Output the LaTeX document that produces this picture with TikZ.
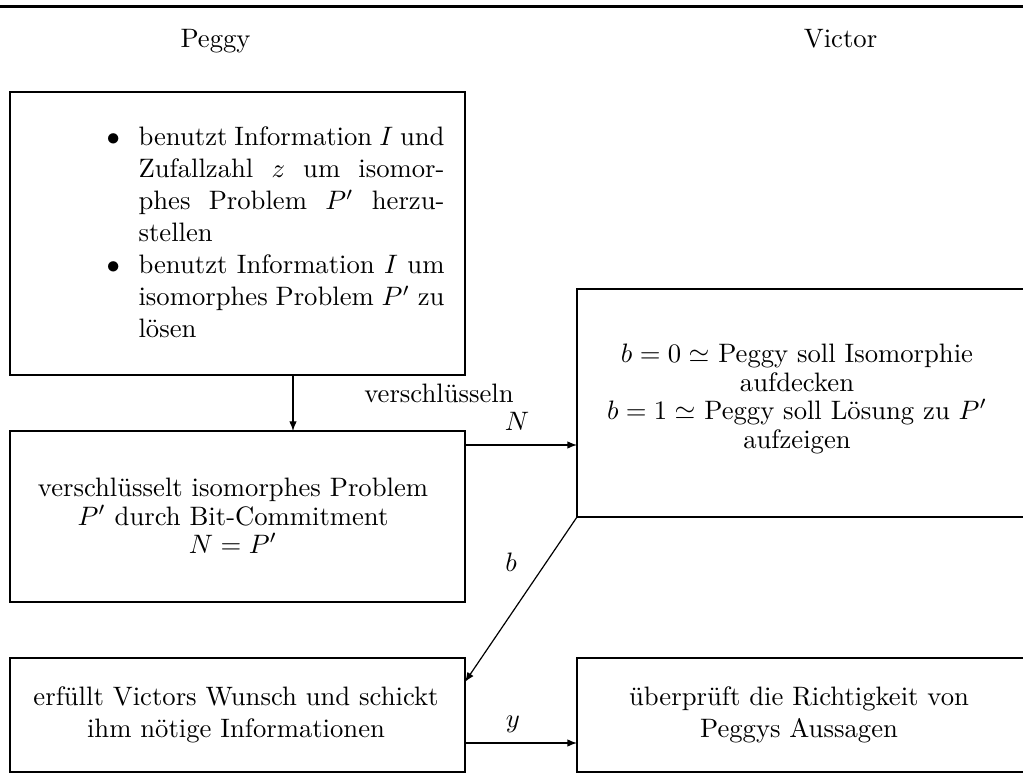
\documentclass[tikz,border=0pt]{standalone}
\usetikzlibrary{arrows.meta,calc}
\newdimen\pxu \pxu=0.375pt
\begin{document}
\begin{tikzpicture}[x=0.375pt,y=-0.375pt,
  frame/.style={draw, line width=0.8pt, inner sep=0pt, outer sep=0pt},
  arr/.style={line width=0.45pt, -{Latex[length=3.6pt,width=2.8pt]}},
  txt/.style={inner sep=0pt, font=\fontsize{10pt}{12pt}\selectfont},
  tight/.style={inner sep=0pt, font=\fontsize{10pt}{10.7pt}\selectfont},
]
\useasboundingbox (0,0) rectangle (1023,782);

% heading rule and the two parties
\draw[line width=1.1pt] (0,6.5) -- (1026,6.5);
\node[txt, anchor=base] (peggy)  at (215.5,48) {Peggy};
\node[txt, anchor=base] (victor) at (840.5,48) {Victor};

% boxes
\node[frame, minimum width=455\pxu, minimum height=283\pxu] (prep)  at (237.5,233.5) {};
\node[frame, minimum width=455\pxu, minimum height=171\pxu] (enc)   at (237.5,516.5) {};
\node[frame, minimum width=455\pxu, minimum height=114\pxu] (reply) at (237.5,715)   {};
\node[frame, minimum width=450\pxu, minimum height=228\pxu] (chal)  at (802,403)     {};
\node[frame, minimum width=450\pxu, minimum height=114\pxu] (check) at (802,715)     {};

% box contents
\node[txt, anchor=north west, align=left] (prepTxt) at (138,126.5) {%
\llap{$\bullet$\hspace{7pt}}\hbox to 306\pxu{benutzt Information $I$ und}\\
\hbox to 306\pxu{Zufallzahl $z$ um isomor-}\\
\hbox to 306\pxu{phes Problem $P'$ herzu-}\\
\hbox to 306\pxu{stellen\hfil}\\
\llap{$\bullet$\hspace{7pt}}\hbox to 306\pxu{benutzt Information $I$ um}\\
\hbox to 306\pxu{isomorphes Problem $P'$ zu}\\
\hbox to 306\pxu{lösen\hfil}};

\node[tight, anchor=north, align=center] (encTxt) at (233,477.5)
  {verschlüsselt isomorphes Problem\\ $P'$ durch Bit-Commitment\\ $N=P'$};
\node[tight, anchor=north, align=center] (chalTxt) at (797,343.5)
  {$b=0 \simeq$ Peggy soll Isomorphie\\ aufdecken\\ $b=1 \simeq$ Peggy soll Lösung zu $P'$\\ aufzeigen};
\node[txt, anchor=north, align=center] (replyTxt) at (236,686.5)
  {erfüllt Victors Wunsch und schickt\\ ihm nötige Informationen};
\node[txt, anchor=north, align=center] (checkTxt) at (799,686.5)
  {überprüft die Richtigkeit von\\ Peggys Aussagen};

% connectors
\draw[arr] ($(prep.south)+(55.5,0)$) -- ($(enc.north)+(55.5,0)$);
\coordinate (nStart) at ($(enc.north east)+(0,14)$);
\draw[arr] (nStart) -- (nStart -| chal.west);
\coordinate (bEnd) at ($(reply.north east)+(0,24)$);
\draw[arr] (chal.south west) -- (bEnd);
\coordinate (yStart) at ($(reply.north east)+(0,85)$);
\draw[arr] (yStart) -- (yStart -| check.west);

% connector labels
\node[txt, anchor=base] (encLbl) at (439,403) {verschlüsseln};
\node[txt, anchor=base] (nLbl) at (517,431) {$N$};
\node[txt, anchor=base] (bLbl) at (511,572) {$b$};
\node[txt, anchor=base] (yLbl) at (513,727) {$y$};
\end{tikzpicture}
\end{document}
